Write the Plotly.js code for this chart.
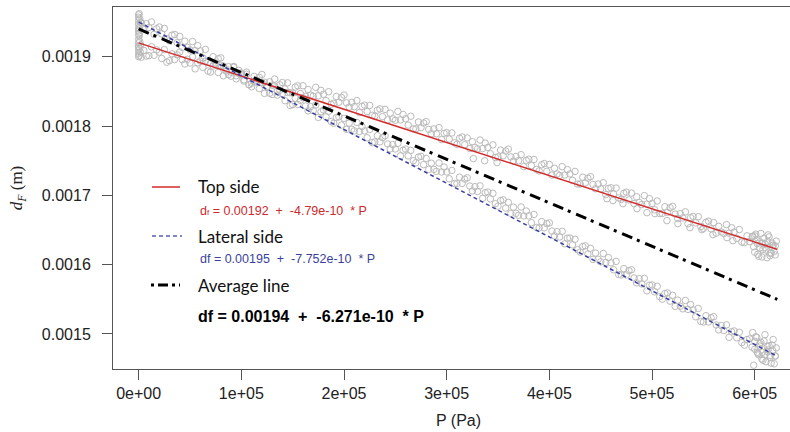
<!DOCTYPE html>
<html>
<head>
<meta charset="utf-8">
<script src="https://cdn.plot.ly/plotly-3.0.1.min.js"></script>
<style>
html,body{margin:0;padding:0;overflow:hidden;background:#fff;}
#chart{width:804px;height:432px;}
</style>
</head>
<body>
<div id="chart"></div>
<script>
// ---------- DATA ----------
// Pressure sweep (Pa) shared by both measured series
const P_sweep = [
0,2500,5000,7500,10000,12500,15000,17500,20000,22500,25000,27500,30000,32500,35000,37500,
40000,42500,45000,47500,50000,52500,55000,57500,60000,62500,65000,67500,70000,72500,75000,77500,
80000,82500,85000,87500,90000,92500,95000,97500,100000,102500,105000,107500,110000,112500,115000,117500,
120000,122500,125000,127500,130000,132500,135000,137500,140000,142500,145000,147500,150000,152500,155000,157500,
160000,162500,165000,167500,170000,172500,175000,177500,180000,182500,185000,187500,190000,192500,195000,197500,
200000,202500,205000,207500,210000,212500,215000,217500,220000,222500,225000,227500,230000,232500,235000,237500,
240000,242500,245000,247500,250000,252500,255000,257500,260000,262500,265000,267500,270000,272500,275000,277500,
280000,282500,285000,287500,290000,292500,295000,297500,300000,302500,305000,307500,310000,312500,315000,317500,
320000,322500,325000,327500,330000,332500,335000,337500,340000,342500,345000,347500,350000,352500,355000,357500,
360000,362500,365000,367500,370000,372500,375000,377500,380000,382500,385000,387500,390000,392500,395000,397500,
400000,402500,405000,407500,410000,412500,415000,417500,420000,422500,425000,427500,430000,432500,435000,437500,
440000,442500,445000,447500,450000,452500,455000,457500,460000,462500,465000,467500,470000,472500,475000,477500,
480000,482500,485000,487500,490000,492500,495000,497500,500000,502500,505000,507500,510000,512500,515000,517500,
520000,522500,525000,527500,530000,532500,535000,537500,540000,542500,545000,547500,550000,552500,555000,557500,
560000,562500,565000,567500,570000,572500,575000,577500,580000,582500,585000,587500,590000,592500,595000,597500,
600000,602500,605000,607500,610000,612500,615000,617500,620000];

// Top side measured d_F (m)
const topSide_dF = [
0.0019145,0.0018993,0.0019091,0.0019009, 0.0019015,0.0019143,0.0019021,0.0019099,
0.0019066,0.0018974,0.0019102,0.0018920, 0.0018943,0.0019041,0.0018959,0.0019027,
0.0019069,0.0018957,0.0018895,0.0018963, 0.0018909,0.0018997,0.0018825,0.0018913,
0.0018939,0.0018847,0.0018935,0.0018793, 0.0018778,0.0018866,0.0018884,0.0018772,
0.0018877,0.0018725,0.0018823,0.0018741, 0.0018719,0.0018847,0.0018725,0.0018803,
0.0018741,0.0018649,0.0018777,0.0018595, 0.0018617,0.0018715,0.0018633,0.0018701,
0.0018744,0.0018632,0.0018570,0.0018638, 0.0018590,0.0018678,0.0018506,0.0018594,
0.0018627,0.0018535,0.0018623,0.0018481, 0.0018474,0.0018562,0.0018580,0.0018468,
0.0018581,0.0018429,0.0018527,0.0018445, 0.0018430,0.0018558,0.0018436,0.0018514,
0.0018459,0.0018367,0.0018495,0.0018313, 0.0018328,0.0018426,0.0018344,0.0018412,
0.0018447,0.0018335,0.0018273,0.0018341, 0.0018279,0.0018367,0.0018195,0.0018283,
0.0018301,0.0018209,0.0018297,0.0018155, 0.0018141,0.0018229,0.0018247,0.0018135,
0.0018240,0.0018088,0.0018186,0.0018104, 0.0018083,0.0018211,0.0018089,0.0018167,
0.0018105,0.0018013,0.0018141,0.0017959, 0.0017960,0.0018058,0.0017976,0.0018044,
0.0018064,0.0017952,0.0017890,0.0017958, 0.0017889,0.0017977,0.0017805,0.0017893,
0.0017904,0.0017812,0.0017900,0.0017758, 0.0017736,0.0017824,0.0017842,0.0017730,
0.0017828,0.0017676,0.0017774,0.0017692, 0.0017670,0.0017798,0.0017676,0.0017754,
0.0017692,0.0017600,0.0017728,0.0017546, 0.0017555,0.0017653,0.0017571,0.0017639,
0.0017667,0.0017555,0.0017493,0.0017561, 0.0017499,0.0017587,0.0017415,0.0017503,
0.0017521,0.0017429,0.0017517,0.0017375, 0.0017353,0.0017441,0.0017459,0.0017347,
0.0017445,0.0017293,0.0017391,0.0017309, 0.0017287,0.0017415,0.0017293,0.0017371,
0.0017309,0.0017217,0.0017345,0.0017163, 0.0017164,0.0017262,0.0017180,0.0017248,
0.0017269,0.0017157,0.0017095,0.0017163, 0.0017094,0.0017182,0.0017010,0.0017098,
0.0017109,0.0017017,0.0017105,0.0016963, 0.0016941,0.0017029,0.0017047,0.0016935,
0.0017033,0.0016881,0.0016979,0.0016897, 0.0016868,0.0016996,0.0016874,0.0016952,
0.0016883,0.0016791,0.0016919,0.0016737, 0.0016738,0.0016836,0.0016754,0.0016822,
0.0016842,0.0016730,0.0016668,0.0016736, 0.0016674,0.0016762,0.0016590,0.0016678,
0.0016696,0.0016604,0.0016692,0.0016550, 0.0016522,0.0016610,0.0016628,0.0016516,
0.0016607,0.0016455,0.0016553,0.0016471, 0.0016449,0.0016577,0.0016455,0.0016533,
0.0016471,0.0016379,0.0016507,0.0016325, 0.0016318,0.0016416,0.0016334,0.0016402,
0.0016416,0.0016304,0.0016242,0.0016310, 0.0016248,0.0016336,0.0016164,0.0016252,
0.0016270];

// Lateral side measured d_F (m)
const lateralSide_dF = [
0.0019604,0.0019485,0.0019415,0.0019476, 0.0019421,0.0019502,0.0019322,0.0019403,
0.0019428,0.0019329,0.0019409,0.0019260, 0.0019230,0.0019311,0.0019321,0.0019202,
0.0019293,0.0019134,0.0019224,0.0019135, 0.0019098,0.0019219,0.0019089,0.0019160,
0.0019084,0.0018985,0.0019105,0.0018916, 0.0018909,0.0019000,0.0018910,0.0018971,
0.0018984,0.0018865,0.0018795,0.0018856, 0.0018779,0.0018860,0.0018680,0.0018761,
0.0018765,0.0018666,0.0018746,0.0018597, 0.0018567,0.0018648,0.0018658,0.0018539,
0.0018630,0.0018471,0.0018561,0.0018472, 0.0018456,0.0018577,0.0018447,0.0018518,
0.0018464,0.0018365,0.0018485,0.0018296, 0.0018310,0.0018401,0.0018311,0.0018372,
0.0018408,0.0018289,0.0018219,0.0018280, 0.0018224,0.0018305,0.0018125,0.0018206,
0.0018232,0.0018133,0.0018213,0.0018064, 0.0018041,0.0018122,0.0018132,0.0018013,
0.0018111,0.0017952,0.0018042,0.0017953, 0.0017930,0.0018051,0.0017921,0.0017992,
0.0017930,0.0017831,0.0017951,0.0017762, 0.0017770,0.0017861,0.0017771,0.0017832,
0.0017860,0.0017741,0.0017671,0.0017732, 0.0017669,0.0017750,0.0017570,0.0017651,
0.0017668,0.0017569,0.0017649,0.0017500, 0.0017471,0.0017552,0.0017562,0.0017443,
0.0017533,0.0017374,0.0017464,0.0017375, 0.0017346,0.0017467,0.0017337,0.0017408,
0.0017338,0.0017239,0.0017359,0.0017170, 0.0017171,0.0017262,0.0017172,0.0017233,
0.0017253,0.0017134,0.0017064,0.0017125, 0.0017056,0.0017137,0.0016957,0.0017038,
0.0017048,0.0016949,0.0017029,0.0016880, 0.0016844,0.0016925,0.0016935,0.0016816,
0.0016899,0.0016740,0.0016830,0.0016741, 0.0016712,0.0016833,0.0016703,0.0016774,
0.0016704,0.0016605,0.0016725,0.0016536, 0.0016530,0.0016621,0.0016531,0.0016592,
0.0016604,0.0016485,0.0016415,0.0016476, 0.0016400,0.0016481,0.0016301,0.0016382,
0.0016385,0.0016286,0.0016366,0.0016217, 0.0016181,0.0016262,0.0016272,0.0016153,
0.0016236,0.0016077,0.0016167,0.0016078, 0.0016041,0.0016162,0.0016032,0.0016103,
0.0016026,0.0015927,0.0016047,0.0015858, 0.0015852,0.0015943,0.0015853,0.0015914,
0.0015927,0.0015808,0.0015738,0.0015799, 0.0015722,0.0015803,0.0015623,0.0015704,
0.0015707,0.0015608,0.0015688,0.0015539, 0.0015502,0.0015583,0.0015593,0.0015474,
0.0015558,0.0015399,0.0015489,0.0015400, 0.0015363,0.0015484,0.0015354,0.0015425,
0.0015348,0.0015249,0.0015369,0.0015180, 0.0015173,0.0015264,0.0015174,0.0015235,
0.0015249,0.0015130,0.0015060,0.0015121, 0.0015051,0.0015132,0.0014952,0.0015033,
0.0015044,0.0014945,0.0015025,0.0014876, 0.0014839,0.0014920,0.0014930,0.0014811,
0.0014895,0.0014736,0.0014826,0.0014737, 0.0014699,0.0014820,0.0014690,0.0014761,
0.0014685];

// Dense readings at the start of loading (Pa, m)
const startP        = [0,0,0,0,0,0,500,1000,1500,1000,500,2000];
const topStart_dF   = [0.001900,0.001905,0.001910,0.001915,0.001920,0.001925,0.001902,0.001912,0.001907,0.001922,0.001930,0.001917];
const latStart_dF   = [0.001932,0.001937,0.001942,0.001947,0.001952,0.001957,0.001962,0.001935,0.001945,0.001955,0.001940,0.001950];

// Dense readings at the end of loading (Pa, m)
const endP = [598000,600000,602000,604000,606000,608000,610000,612000,614000,616000,618000,620000,
              621000,599000,601000,603000,605000,607000,609000,611000,613000,615000,617000,619000];
const topEnd_dF = [0.001641,0.001618,0.001636,0.001612,0.001645,0.001622,0.001630,0.001610,0.001640,0.001617,0.001628,0.001614,
                   0.001634,0.001626,0.001644,0.001615,0.001633,0.001611,0.001638,0.001621,0.001643,0.001613,0.001631,0.001619];
const latEnd_dF = [0.001502,0.001478,0.001495,0.001470,0.001488,0.001462,0.001499,0.001475,0.001483,0.001458,0.001492,0.001468,
                   0.001480,0.001455,0.001496,0.001472,0.001486,0.001464,0.001490,0.001460,0.001477,0.001466,0.001484,0.001457];

// Sparse low readings of the top side
const topLowP  = [326000,337000,349000,456100,461900,471700,485300,495000,502800,514500,525200,536900,548600,559300,572900,578800];
const topLow_dF = [0.0017530,0.0017500,0.0017472,0.0016952,0.0016924,0.0016880,0.0016808,0.0016750,0.0016736,0.0016635,0.0016592,0.0016534,0.0016505,0.0016433,0.0016390,0.0016346];

// Fitted lines (endpoints, Pa / m)
const fitP          = [0, 622000];
const topFit_dF     = [0.00192, 0.0016221];
const lateralFit_dF = [0.00195, 0.0014678];
const averageFit_dF = [0.00194, 0.0015499];

// Ticks
const xTickVals = [0,100000,200000,300000,400000,500000,600000];
const xTickText = ["0e+00","1e+05","2e+05","3e+05","4e+05","5e+05","6e+05"];
const yTickVals = [0.0015,0.0016,0.0017,0.0018,0.0019];
const yTickText = ["0.0015","0.0016","0.0017","0.0018","0.0019"];

// Titles and legend texts
const nb = "\u00a0";
const xTitle = 'P (Pa)' + nb.repeat(5);
const yTitle = '<i>d</i><sub><i>F</i></sub> (m)';
const legendNames = ["Top side","Lateral side","Average line"];
const eqTop = 'd<span style="font-size:8px">f</span> = 0.00192' + nb+' +'+nb+' -4.79e-10'+nb+' * P';
const eqLat = 'df = 0.00195'+nb+' +'+nb+' -7.752e-10'+nb+' * P';
const eqAvg = '<b>df = 0.00194'+nb+' +'+nb+' -6.271e-10'+nb+' * P</b>';

// ---------- LAYOUT HELPERS (pixel -> paper) ----------
const W = 804, H = 432, ML = 113, MR = 0, MT = 7, MB = 63;
const PW = W - ML - MR, PH = H - MT - MB;
const px = v => (v - ML) / PW;
const py = v => (H - MB - v) / PH;

const grey = 'rgb(186,186,186)';
const marker = {symbol:'circle-open', size:6.5, color:grey, line:{width:1, color:grey}};

const traces = [
  {x:P_sweep.concat(startP, endP, topLowP), y:topSide_dF.concat(topStart_dF, topEnd_dF, topLow_dF),
   type:'scatter', mode:'markers', marker:marker, hoverinfo:'skip'},
  {x:P_sweep.concat(startP, endP), y:lateralSide_dF.concat(latStart_dF, latEnd_dF),
   type:'scatter', mode:'markers', marker:marker, hoverinfo:'skip'},
  {x:fitP, y:topFit_dF, type:'scatter', mode:'lines', line:{color:'#d42a2a', width:1.5}},
  {x:fitP, y:lateralFit_dF, type:'scatter', mode:'lines', line:{color:'#3b3fa3', width:1.5, dash:'4px,3px'}},
  {x:fitP, y:averageFit_dF, type:'scatter', mode:'lines', line:{color:'#000', width:3, dash:'11px,5px,3px,6px'}}
];

const axFont = {family:'Liberation Sans', size:16, color:'#222'};
const lgFont = {family:'Lato', size:17, color:'#111'};

const layout = {
  width:W, height:H,
  margin:{l:ML, r:MR, t:MT, b:MB},
  paper_bgcolor:'#fff', plot_bgcolor:'#fff',
  showlegend:false,
  font:{family:'Liberation Sans'},
  xaxis:{range:[-25000, 648000], tickvals:xTickVals, ticktext:xTickText,
         ticks:'outside', ticklen:10, tickcolor:'#555', tickwidth:1,
         showline:true, linecolor:'#555', linewidth:1, mirror:true,
         showgrid:false, zeroline:false, tickfont:axFont, ticklabelstandoff:0,
         title:{text:xTitle, font:axFont, standoff:13}},
  yaxis:{range:[0.0014495, 0.0019717], tickvals:yTickVals, ticktext:yTickText,
         ticks:'outside', ticklen:10, tickcolor:'#555', tickwidth:1,
         showline:true, linecolor:'#555', linewidth:1, mirror:true,
         showgrid:false, zeroline:false, tickfont:axFont, ticklabelstandoff:8,
         title:{text:yTitle, font:{family:'Liberation Serif', size:17, color:'#222'}, standoff:14}},
  shapes:[
    {type:'line', xref:'paper', yref:'paper', x0:px(152), x1:px(180), y0:py(187), y1:py(187), line:{color:'#d42a2a', width:1.5}},
    {type:'line', xref:'paper', yref:'paper', x0:px(152), x1:px(182), y0:py(236), y1:py(236), line:{color:'#5a5eb3', width:1.5, dash:'4px,3px'}},
    {type:'line', xref:'paper', yref:'paper', x0:px(151), x1:px(180), y0:py(285), y1:py(285), line:{color:'#000', width:3, dash:'3px,4px,10px,4px'}}
  ],
  annotations:[
    {xref:'paper', yref:'paper', x:px(196), y:py(187), showarrow:false, xanchor:'left', yanchor:'middle', text:legendNames[0], font:lgFont},
    {xref:'paper', yref:'paper', x:px(198), y:py(211), showarrow:false, xanchor:'left', yanchor:'middle', text:eqTop,
     font:{family:'Liberation Sans', size:12.5, color:'#cc2a2e'}},
    {xref:'paper', yref:'paper', x:px(196), y:py(236), showarrow:false, xanchor:'left', yanchor:'middle', text:legendNames[1], font:lgFont},
    {xref:'paper', yref:'paper', x:px(198), y:py(259), showarrow:false, xanchor:'left', yanchor:'middle', text:eqLat,
     font:{family:'Liberation Sans', size:12.5, color:'#3b3f9c'}},
    {xref:'paper', yref:'paper', x:px(196), y:py(285), showarrow:false, xanchor:'left', yanchor:'middle', text:legendNames[2], font:lgFont},
    {xref:'paper', yref:'paper', x:px(196), y:py(316), showarrow:false, xanchor:'left', yanchor:'middle', text:eqAvg,
     font:{family:'Liberation Sans', size:16, color:'#000'}}
  ]
};

Plotly.newPlot('chart', traces, layout, {displayModeBar:false, staticPlot:true});
</script>
</body>
</html>
